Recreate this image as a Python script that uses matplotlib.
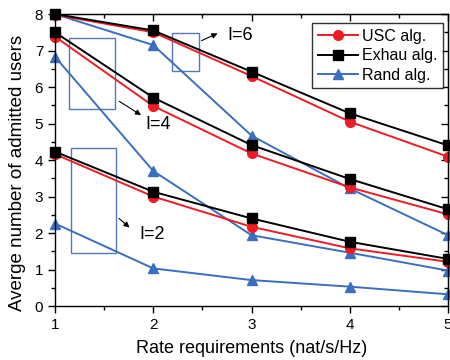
import matplotlib
matplotlib.use("Agg")
import matplotlib.pyplot as plt
from matplotlib.patches import Rectangle
from matplotlib.ticker import MultipleLocator

plt.rcParams['font.family'] = ['Liberation Sans', 'DejaVu Sans']

rates = [1, 2, 3, 4, 5]

# I=6
usc_6 = [7.98, 7.50, 6.30, 5.05, 4.09]
exhau_6 = [8.00, 7.55, 6.42, 5.28, 4.40]
rand_6 = [8.00, 7.15, 4.67, 3.22, 1.94]
# I=4
usc_4 = [7.38, 5.48, 4.18, 3.25, 2.51]
exhau_4 = [7.50, 5.71, 4.41, 3.48, 2.65]
rand_4 = [6.83, 3.70, 1.94, 1.46, 0.97]
# I=2
usc_2 = [4.16, 3.00, 2.17, 1.58, 1.21]
exhau_2 = [4.23, 3.13, 2.40, 1.76, 1.29]
rand_2 = [2.26, 1.03, 0.71, 0.53, 0.32]

red = '#ee1c24'
black = '#000000'
blue = '#3a6ebf'
box_blue = '#5577bb'

fig = plt.figure(figsize=(4.5, 3.6), dpi=100)
ax = fig.add_axes([0.1222, 0.15, 0.8734, 0.811])

style = dict(linewidth=1.4, markersize=7, clip_on=False)
for usc, exhau, rnd in [(usc_6, exhau_6, rand_6), (usc_4, exhau_4, rand_4), (usc_2, exhau_2, rand_2)]:
    ax.plot(rates, rnd, color=blue, marker='^', **style)
    ax.plot(rates, usc, color=red, marker='o', **style)
    ax.plot(rates, exhau, color=black, marker='s', **style)

# legend handles
h_usc, = ax.plot([], [], color=red, marker='o', linewidth=1.4, markersize=7, label='USC alg.')
h_ex, = ax.plot([], [], color=black, marker='s', linewidth=1.4, markersize=7, label='Exhau alg.')
h_rd, = ax.plot([], [], color=blue, marker='^', linewidth=1.4, markersize=7, label='Rand alg.')
leg = ax.legend(handles=[h_usc, h_ex, h_rd], loc='upper right', bbox_to_anchor=(0.9875, 0.969),
                fontsize=11.5, frameon=True, fancybox=False, edgecolor='black',
                handlelength=2.5, handletextpad=0.25, borderpad=0.35, labelspacing=0.28,
                borderaxespad=0)
leg.get_frame().set_linewidth(1.0)

# zoom boxes and labels
boxes = [(2.186, 6.447, 0.28, 1.023), (1.142, 5.40, 0.469, 1.95), (1.16, 1.46, 0.46, 2.86)]
for x0, y0, w, h in boxes:
    ax.add_patch(Rectangle((x0, y0), w, h, fill=False, edgecolor=box_blue, linewidth=1.0))

arrow = dict(arrowstyle='-|>', color='black', lw=0.8, mutation_scale=8)
ax.annotate('', xy=(2.68, 7.50), xytext=(2.466, 7.24), arrowprops=arrow)
ax.text(2.75, 7.42, 'I=6', fontsize=13, va='center', ha='left')
ax.annotate('', xy=(1.90, 5.19), xytext=(1.63, 5.65), arrowprops=arrow)
ax.text(1.92, 4.96, 'I=4', fontsize=13, va='center', ha='left')
ax.annotate('', xy=(1.78, 2.10), xytext=(1.63, 2.45), arrowprops=arrow)
ax.text(1.86, 1.95, 'I=2', fontsize=13, va='center', ha='left')

ax.set_xlim(1, 5)
ax.set_ylim(0, 8)
ax.xaxis.set_major_locator(MultipleLocator(1))
ax.xaxis.set_minor_locator(MultipleLocator(0.5))
ax.yaxis.set_major_locator(MultipleLocator(1))
ax.yaxis.set_minor_locator(MultipleLocator(0.5))
ax.tick_params(which='both', direction='out', labelsize=11, width=1)
ax.tick_params(which='major', length=5)
ax.tick_params(which='minor', length=3)
for s in ax.spines.values():
    s.set_linewidth(1.0)

# inward ticks on the top and right sides
top = ax.secondary_xaxis('top')
right = ax.secondary_yaxis('right')
for sec, axis in [(top, top.xaxis), (right, right.yaxis)]:
    axis.set_major_locator(MultipleLocator(1))
    axis.set_minor_locator(MultipleLocator(0.5))
    sec.tick_params(which='both', direction='in', width=1, labelleft=False, labelright=False,
                    labeltop=False, labelbottom=False)
    sec.tick_params(which='major', length=5)
    sec.tick_params(which='minor', length=3)

ax.set_xlabel('Rate requirements (nat/s/Hz)', fontsize=13, labelpad=6)
ax.set_ylabel('Averge number of admitted users', fontsize=13.5)
ax.yaxis.set_label_coords(-0.075, 0.455)

fig.savefig('out.png', dpi=100)
